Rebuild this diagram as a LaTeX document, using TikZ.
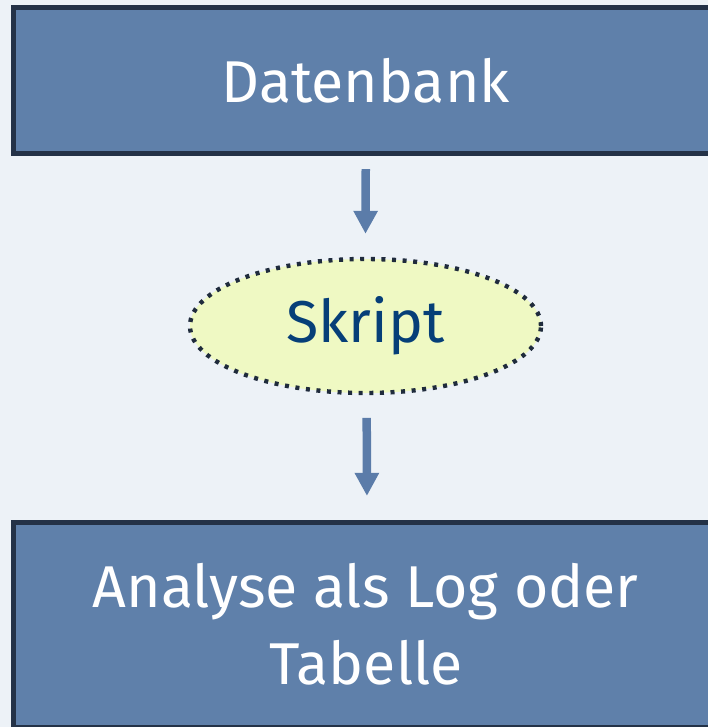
\documentclass[tikz,border=0pt]{standalone}
\usepackage{fontspec}
\setmainfont{Fira Sans}
\usetikzlibrary{arrows.meta,shapes.geometric}
\definecolor{pagebg}{HTML}{EDF2F7}
\definecolor{boxfill}{HTML}{5F80AA}
\definecolor{boxline}{HTML}{243247}
\definecolor{flowarrow}{HTML}{5B7CA9}
\definecolor{scriptfill}{HTML}{EFF9C3}
\definecolor{scriptline}{HTML}{1F2B3C}
\definecolor{scripttext}{HTML}{063F78}

\begin{document}
\begin{tikzpicture}[x=1pt,y=-1pt,
  stagebox/.style={rectangle, draw=boxline, fill=boxfill, line width=5pt,
    minimum width=704.5pt, inner sep=0pt, text=white, align=center,
    font=\fontsize{59}{77}\selectfont},
  scriptnode/.style={ellipse, draw=scriptline, fill=scriptfill, line width=4.4pt,
    dash pattern=on 4pt off 6.6pt, minimum width=351pt, minimum height=134pt,
    inner sep=0pt, text=scripttext, font=\fontsize{59}{72}\selectfont},
  flow/.style={draw=flowarrow, line width=8.5pt, line cap=butt,
    -{Triangle[width=23pt,length=23pt]}}
]
% page and background
\useasboundingbox (0,0) rectangle (708,727);
\fill[pagebg] (0,0) rectangle (708,727);

% the three stages
\node[stagebox, minimum height=146pt] (db) at (365.75,80.5) {Datenbank};
\node[scriptnode] (skript) at (365.5,326) {Skript};
\node[stagebox, minimum height=205pt] (analyse) at (365.75,624.6)
  {Analyse als Log oder\\Tabelle};

% flow arrows
\draw[flow] ([yshift=-13.2pt]db.south) -- ([yshift=23pt]skript.north);
\draw[flow] ([xshift=1.2pt,yshift=-22.7pt]skript.south)
  -- ([xshift=1.2pt,yshift=23.7pt]analyse.north);
\end{tikzpicture}
\end{document}
